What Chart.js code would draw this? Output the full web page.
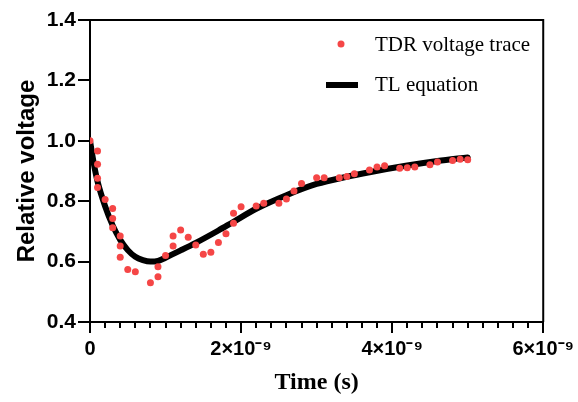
<!DOCTYPE html>
<html lang="en">
<head>
    <meta charset="UTF-8">
    <title>TDR voltage trace vs TL equation</title>
    <script src="https://cdn.jsdelivr.net/npm/chart.js"></script>
    <style>
        body { margin: 0; background: #fff; }
        #wrap { width: 578px; height: 402px; position: relative; }
    </style>
</head>
<body>
    <div id="wrap"><canvas id="tdrChart"></canvas></div>
    <script>
        // time in ns (axis labels are shown in seconds)
        const traceTime = [0, 0.1, 0.1, 0.1, 0.1, 0.2, 0.3, 0.3, 0.3, 0.4, 0.4, 0.4, 0.5, 0.6, 0.8, 0.9, 0.9,
            1.0, 1.1, 1.1, 1.2, 1.3, 1.4, 1.5, 1.6, 1.7, 1.8, 1.9, 1.9, 2.0, 2.2, 2.3, 2.5, 2.6, 2.7, 2.8,
            3.0, 3.1, 3.3, 3.4, 3.5, 3.7, 3.8, 3.9, 4.1, 4.2, 4.3, 4.5, 4.6, 4.8, 4.9, 5.0];
        const traceVoltage = [1.0, 0.966, 0.922, 0.876, 0.845, 0.806, 0.776, 0.743, 0.712, 0.685, 0.652, 0.614, 0.574, 0.566, 0.530, 0.550, 0.583,
            0.620, 0.652, 0.685, 0.705, 0.681, 0.655, 0.624, 0.631, 0.663, 0.692, 0.727, 0.760, 0.782, 0.784, 0.793, 0.793, 0.807, 0.834, 0.859,
            0.878, 0.878, 0.878, 0.882, 0.891, 0.903, 0.913, 0.917, 0.909, 0.911, 0.913, 0.921, 0.930, 0.935, 0.939, 0.937];

        const curveTime = [0, 0.05, 0.1, 0.2, 0.3, 0.4, 0.5, 0.6, 0.7, 0.8, 0.9, 1.0, 1.2, 1.4, 1.7, 1.9, 2.2, 2.6, 3.0, 3.4, 3.7, 4.2, 4.6, 5.0];
        const curveVoltage = [1.0, 0.925, 0.865, 0.783, 0.72, 0.672, 0.638, 0.616, 0.605, 0.600, 0.602, 0.613, 0.637, 0.662, 0.703, 0.732, 0.775, 0.820, 0.857, 0.881, 0.896, 0.918, 0.933, 0.945];

        const xTicks = [0, 2, 4, 6];
        const xTickLabels = ['0', '2×10⁻⁹', '4×10⁻⁹', '6×10⁻⁹'];
        const yTicks = [0.4, 0.6, 0.8, 1.0, 1.2, 1.4];

        const seriesNames = ['TDR voltage trace', 'TL equation'];
        const dotColor = 'rgb(245,70,70)';

        const toPoints = (xs, ys) => xs.map((x, i) => ({ x: x, y: ys[i] }));

        // frame, minor ticks and inner legend
        const framePlugin = {
            id: 'frame',
            afterDraw(chart) {
                const { ctx, chartArea: a, scales } = chart;
                ctx.save();
                ctx.strokeStyle = '#000';
                ctx.lineWidth = 2;
                ctx.beginPath();
                ctx.moveTo(a.left, a.top);
                ctx.lineTo(a.right, a.top);
                ctx.lineTo(a.right, a.bottom);
                ctx.stroke();
                // minor x ticks
                for (let v = 0.2; v < 6; v += 0.2) {
                    if (Math.abs(v / 2 - Math.round(v / 2)) < 1e-6) continue;
                    const px = Math.round(scales.x.getPixelForValue(v));
                    ctx.beginPath();
                    ctx.moveTo(px, a.bottom);
                    ctx.lineTo(px, a.bottom + 6);
                    ctx.stroke();
                }
                // legend
                ctx.fillStyle = dotColor;
                ctx.beginPath();
                ctx.arc(341, 44, 3.5, 0, Math.PI * 2);
                ctx.fill();
                ctx.lineWidth = 6;
                ctx.beginPath();
                ctx.moveTo(326, 85);
                ctx.lineTo(358, 85);
                ctx.stroke();
                ctx.fillStyle = '#000';
                ctx.font = '21px "Liberation Serif", serif';
                ctx.textBaseline = 'middle';
                ctx.fillText(seriesNames[0], 375, 45);
                ctx.fillText(seriesNames[1], 375, 85);
                ctx.restore();
            }
        };

        new Chart(document.getElementById('tdrChart'), {
            type: 'scatter',
            data: {
                datasets: [{
                    label: seriesNames[0],
                    data: toPoints(traceTime, traceVoltage),
                    backgroundColor: dotColor,
                    borderWidth: 0,
                    pointRadius: 3.5
                }, {
                    type: 'line',
                    label: seriesNames[1],
                    data: toPoints(curveTime, curveVoltage),
                    borderColor: '#000',
                    borderWidth: 6,
                    pointRadius: 0,
                    fill: false,
                    cubicInterpolationMode: 'monotone',
                    borderCapStyle: 'round'
                }]
            },
            options: {
                responsive: true,
                maintainAspectRatio: false,
                animation: false,
                layout: { padding: { top: 20, right: 0, left: 0, bottom: 0 } },
                plugins: { legend: { display: false }, tooltip: { enabled: false } },
                scales: {
                    x: {
                        type: 'linear',
                        min: 0, max: 6,
                        afterBuildTicks: s => { s.ticks = xTicks.map(v => ({ value: v })); },
                        ticks: {
                            color: '#000',
                            padding: 4,
                            maxRotation: 0,
                            font: { family: '"Liberation Sans", Arial, sans-serif', size: 20, weight: 'bold' },
                            callback: (v) => xTickLabels[xTicks.indexOf(v)]
                        },
                        grid: { drawOnChartArea: false, color: '#000', lineWidth: 2, tickLength: 11 },
                        border: { color: '#000', width: 2 },
                        title: {
                            display: true,
                            text: 'Time (s)',
                            color: '#000',
                            font: { family: '"Liberation Serif", serif', size: 24, weight: 'bold', lineHeight: 1 },
                            padding: { top: 4, bottom: 7 }
                        },
                        afterFit: s => { s.height = 80; }
                    },
                    y: {
                        min: 0.4, max: 1.4,
                        afterBuildTicks: s => { s.ticks = yTicks.map(v => ({ value: v })); },
                        ticks: {
                            color: '#000',
                            padding: 2,
                            font: { family: '"Liberation Sans", Arial, sans-serif', size: 21, weight: 'bold' },
                            callback: v => v.toFixed(1)
                        },
                        grid: { drawOnChartArea: false, color: '#000', lineWidth: 2, tickLength: 12 },
                        border: { color: '#000', width: 2 },
                        title: {
                            display: true,
                            text: 'Relative voltage',
                            color: '#000',
                            font: { family: '"Liberation Sans", Arial, sans-serif', size: 24, weight: 'bold', lineHeight: 1 },
                            padding: { top: 15, bottom: 0 }
                        },
                        afterFit: s => { s.width = 90; }
                    }
                }
            },
            plugins: [framePlugin]
        });
    </script>
</body>
</html>
